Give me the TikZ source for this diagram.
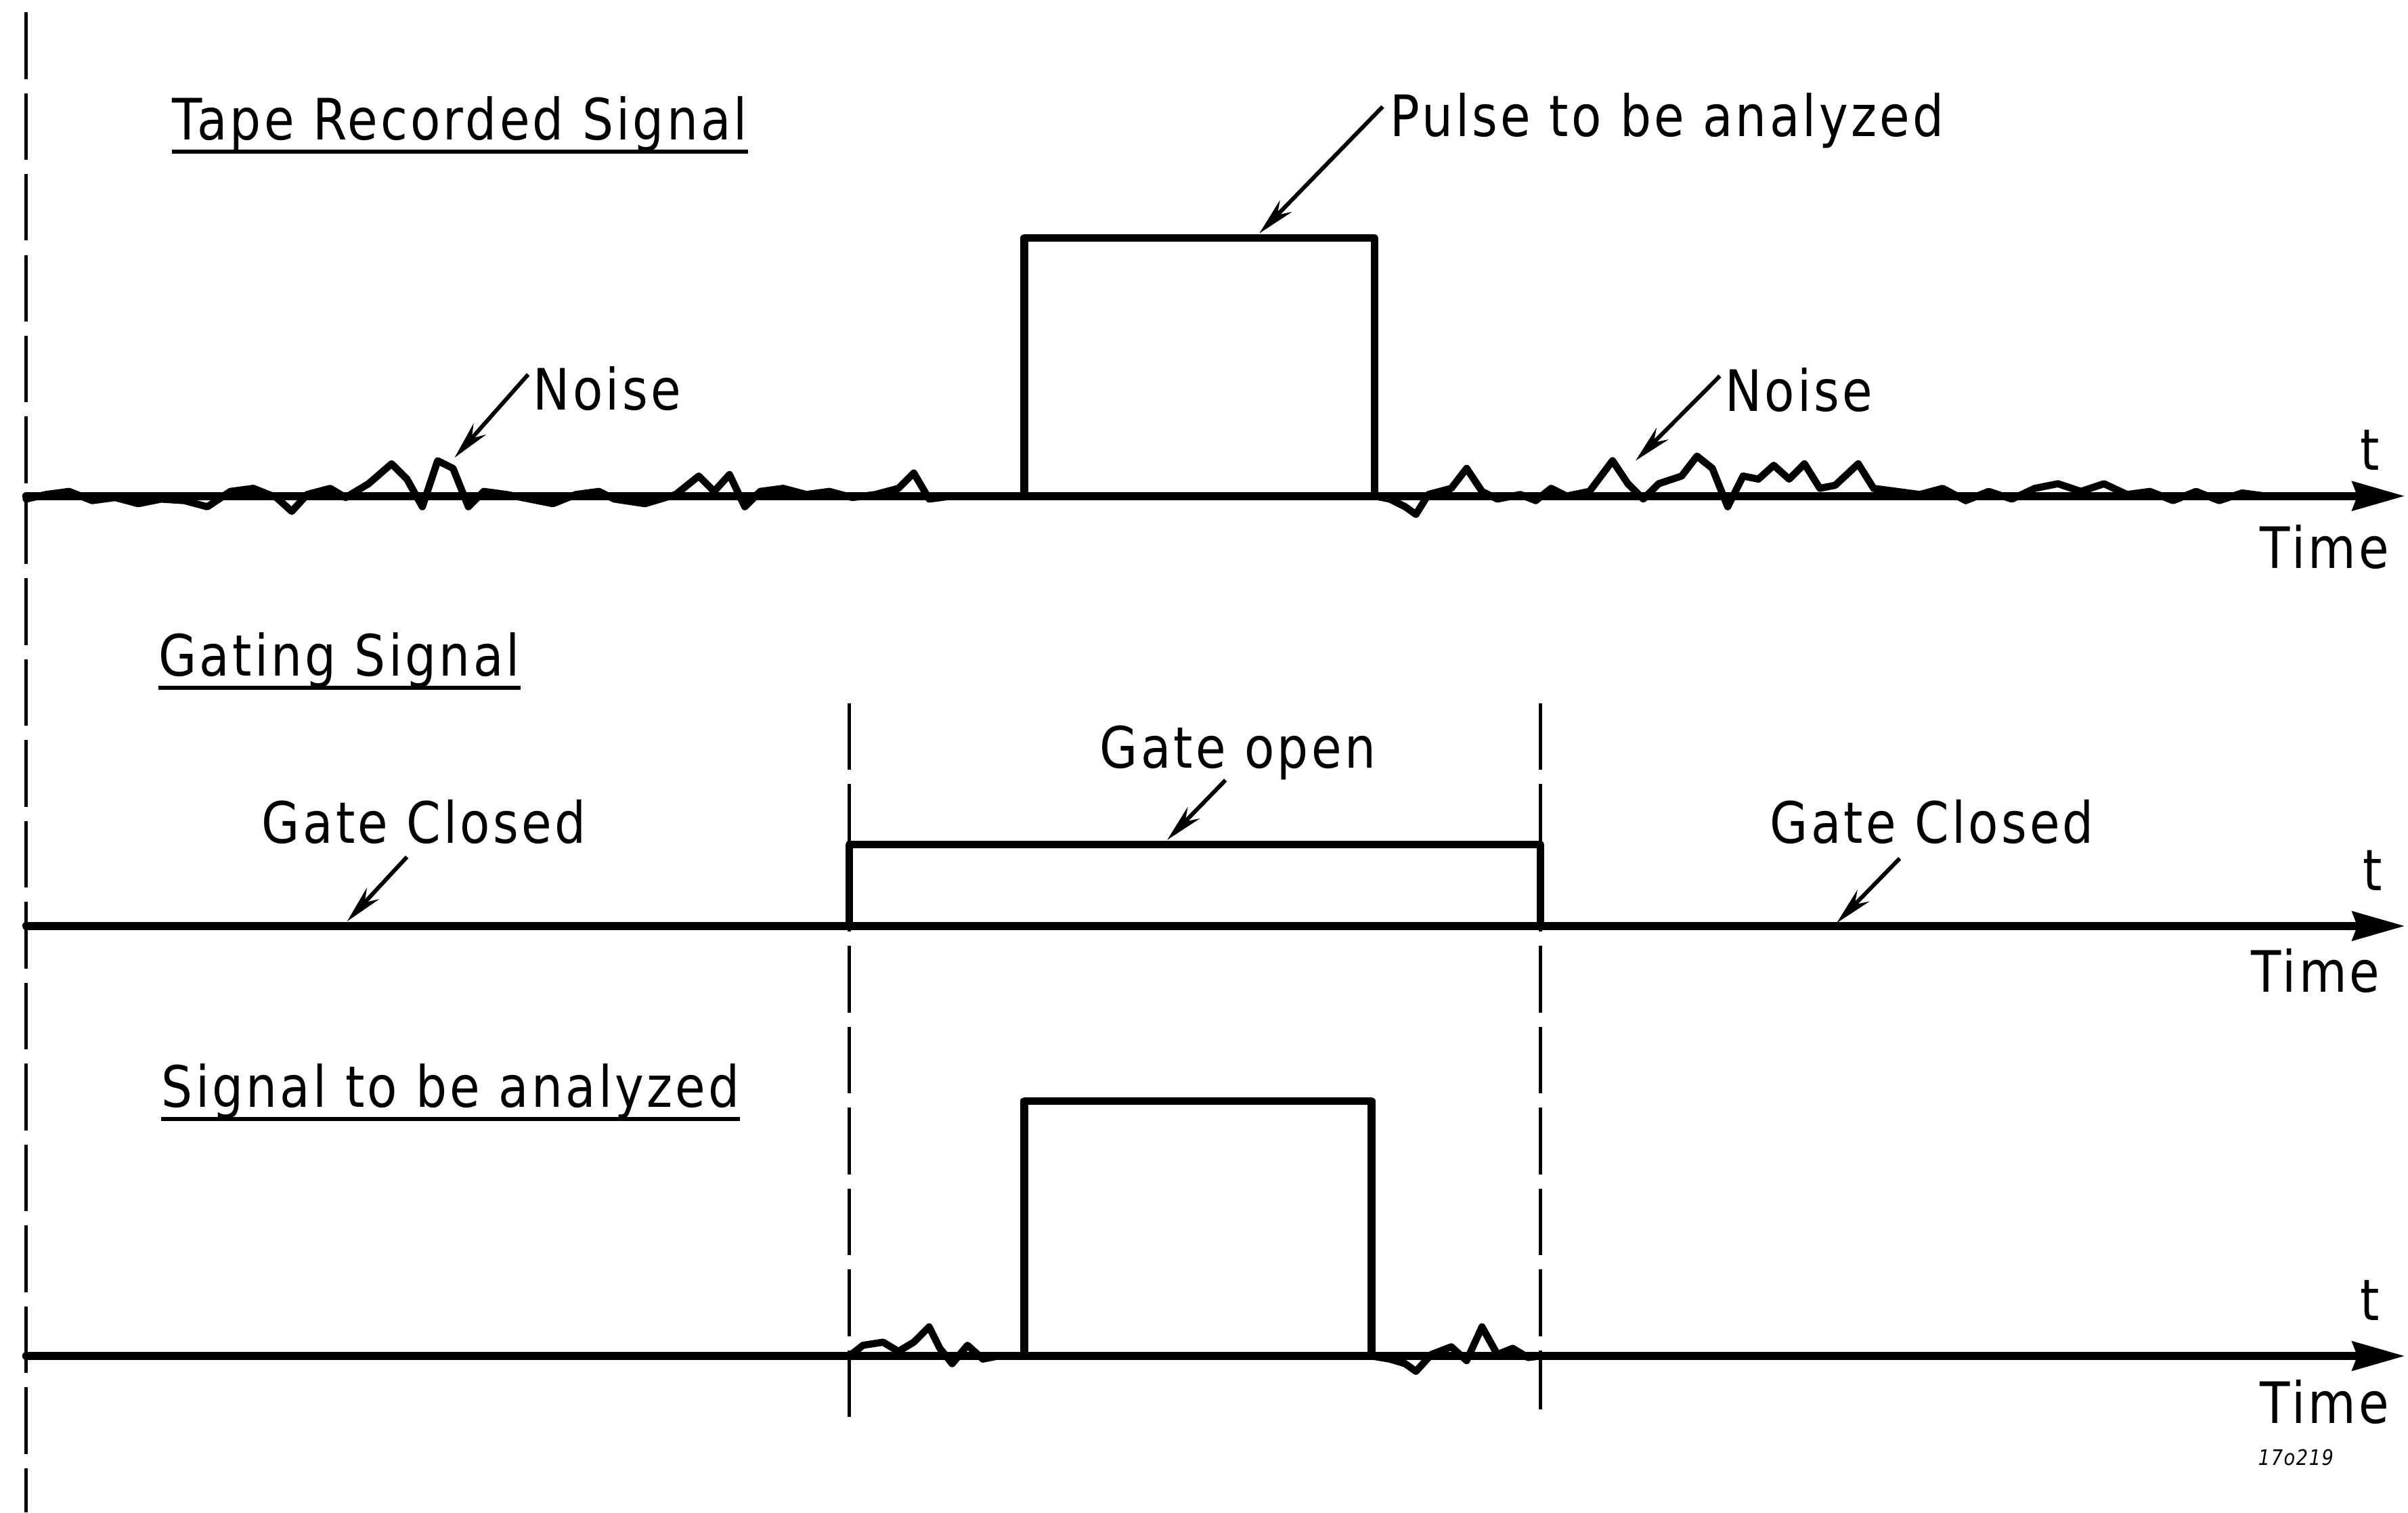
\documentclass[tikz,border=0pt]{standalone}
\usepackage{fontspec}
\setmainfont{DejaVu Sans}[FakeStretch=0.86,LetterSpace=5]
\usetikzlibrary{arrows.meta}
\begin{document}
\begin{tikzpicture}[x=0.022685cm,y=-0.022685cm,
  sig/.style={line width=3.3pt,line join=round,line cap=round},
  noisy/.style={line width=3pt,line join=round,line cap=round},
  gline/.style={line width=1.4pt,dash pattern=on 28pt off 6pt},
  lbl/.style={font=\fontsize{24}{28}\selectfont,inner sep=0pt},
  head/.style={lbl,anchor=base west},
  callout/.style={line width=1.7pt,-{Stealth[length=16pt,width=7pt]}},
  axis/.style={sig,-{Stealth[length=22pt,width=12pt,inset=2pt]}},
  uline/.style={line width=1.8pt}]
\useasboundingbox (0,0) rectangle (1568,985);

% left dashed reference line
\coordinate (L1) at (17,8);
\coordinate (L2) at (17,985);
\draw[gline] (L1) -- (L2);

% ---------- Tape recorded signal ----------
\node[head] (h1) at (112,91) {Tape Recorded Signal};
\draw[uline] ([yshift=-5pt]h1.base west) -- ([yshift=-5pt]h1.base east);
\coordinate (a1s) at (17,323);
\coordinate (a1e) at (1566,323);
\draw[axis] (a1s) -- (a1e);
\coordinate (p1a) at (667,323);
\coordinate (p1b) at (667,155);
\coordinate (p1c) at (895,155);
\coordinate (p1d) at (895,323);
\draw[sig] (p1a) -- (p1b) -- (p1c) -- (p1d);
\draw[noisy] plot coordinates {(17,325) (30,322) (45,320) (60,326) (75,324) (90,328) (105,325) (120,326) (135,330) (150,320) (165,318) (180,324) (190,333) (200,322) (215,318) (225,324) (240,315) (255,302) (265,312) (275,330) (285,300) (295,305) (305,330) (315,320) (330,322) (345,325) (360,328) (375,322) (390,320) (400,325) (420,328) (440,322) (455,310) (465,320) (475,309) (485,330) (495,320) (510,318) (525,322) (540,320) (555,324) (570,322) (585,318) (595,308) (605,325) (620,323) (640,323) (667,323)};
\draw[noisy] plot coordinates {(895,323) (905,325) (915,330) (922,335) (930,322) (945,318) (955,305) (965,320) (975,325) (990,322) (1000,326) (1010,318) (1020,323) (1035,320) (1050,300) (1060,315) (1070,325) (1080,315) (1095,310) (1105,297) (1115,305) (1125,330) (1135,310) (1145,312) (1155,303) (1165,312) (1175,302) (1185,318) (1195,316) (1210,302) (1220,318) (1235,320) (1250,322) (1265,318) (1280,326) (1295,320) (1310,325) (1325,318) (1340,315) (1355,320) (1370,315) (1385,322) (1400,320) (1415,326) (1430,320) (1445,326) (1460,321) (1475,323)};
\node[lbl,anchor=base west] (pl) at (905,89) {Pulse to be analyzed};
\coordinate (plt) at (820,152);
\draw[callout] ([xshift=-3pt,yshift=6pt]pl.west) -- (plt);
\node[lbl,anchor=base west] (n1) at (347,267) {Noise};
\coordinate (n1t) at (296,298);
\draw[callout] ([xshift=-2pt,yshift=6pt]n1.west) -- (n1t);
\node[lbl,anchor=base west] (n2) at (1123,268) {Noise};
\coordinate (n2t) at (1065,300);
\draw[callout] ([xshift=-2pt,yshift=6pt]n2.west) -- (n2t);
\node[lbl,anchor=base] (t1) at (1543,306) {t};
\node[lbl,anchor=base east] (T1) at (1556,370) {Time};

% ---------- Gating signal ----------
\node[head] (h2) at (103,440) {Gating Signal};
\draw[uline] ([yshift=-5pt]h2.base west) -- ([yshift=-5pt]h2.base east);
\coordinate (a2s) at (17,603);
\coordinate (a2e) at (1566,603);
\draw[axis] (a2s) -- (a2e);
\coordinate (g1) at (553,603);
\coordinate (g2) at (553,550);
\coordinate (g3) at (1003,550);
\coordinate (g4) at (1003,603);
\draw[sig] (g1) -- (g2) -- (g3) -- (g4);
\coordinate (d1a) at (553,458);
\coordinate (d1b) at (553,930);
\coordinate (d2a) at (1003,458);
\coordinate (d2b) at (1003,918);
\draw[gline] (d1a) -- (d1b);
\draw[gline] (d2a) -- (d2b);
\node[lbl,anchor=base] (go) at (806,500) {Gate open};
\coordinate (got) at (760,547);
\coordinate (gos) at (798,508);
\draw[callout] (gos) -- (got);
\node[lbl,anchor=base] (gc1) at (276,549) {Gate Closed};
\coordinate (gc1s) at (265,558);
\coordinate (gc1t) at (226,600);
\draw[callout] (gc1s) -- (gc1t);
\node[lbl,anchor=base] (gc2) at (1258,549) {Gate Closed};
\coordinate (gc2s) at (1237,559);
\coordinate (gc2t) at (1196,601);
\draw[callout] (gc2s) -- (gc2t);
\node[lbl,anchor=base] (t2) at (1545,580) {t};
\node[lbl,anchor=base east] (T2) at (1550,646) {Time};

% ---------- Signal to be analyzed ----------
\node[head] (h3) at (105,721) {Signal to be analyzed};
\draw[uline] ([yshift=-5pt]h3.base west) -- ([yshift=-5pt]h3.base east);
\coordinate (a3s) at (17,883);
\coordinate (a3e) at (1566,883);
\draw[axis] (a3s) -- (a3e);
\coordinate (p3a) at (667,883);
\coordinate (p3b) at (667,717);
\coordinate (p3c) at (893,717);
\coordinate (p3d) at (893,883);
\draw[sig] (p3a) -- (p3b) -- (p3c) -- (p3d);
\draw[noisy] plot coordinates {(553,883) (562,876) (575,874) (585,880) (595,874) (605,864) (612,878) (620,888) (630,876) (640,885) (650,883) (667,883)};
\draw[noisy] plot coordinates {(893,883) (905,885) (915,888) (922,893) (932,882) (945,877) (955,886) (965,864) (975,882) (985,878) (995,884) (1003,883)};
\node[lbl,anchor=base] (t3) at (1543,860) {t};
\node[lbl,anchor=base east] (T3) at (1556,927) {Time};
\node[font=\fontsize{9}{10}\selectfont\itshape,inner sep=0pt] (fig) at (1495,949) {17o219};
\end{tikzpicture}
\end{document}
